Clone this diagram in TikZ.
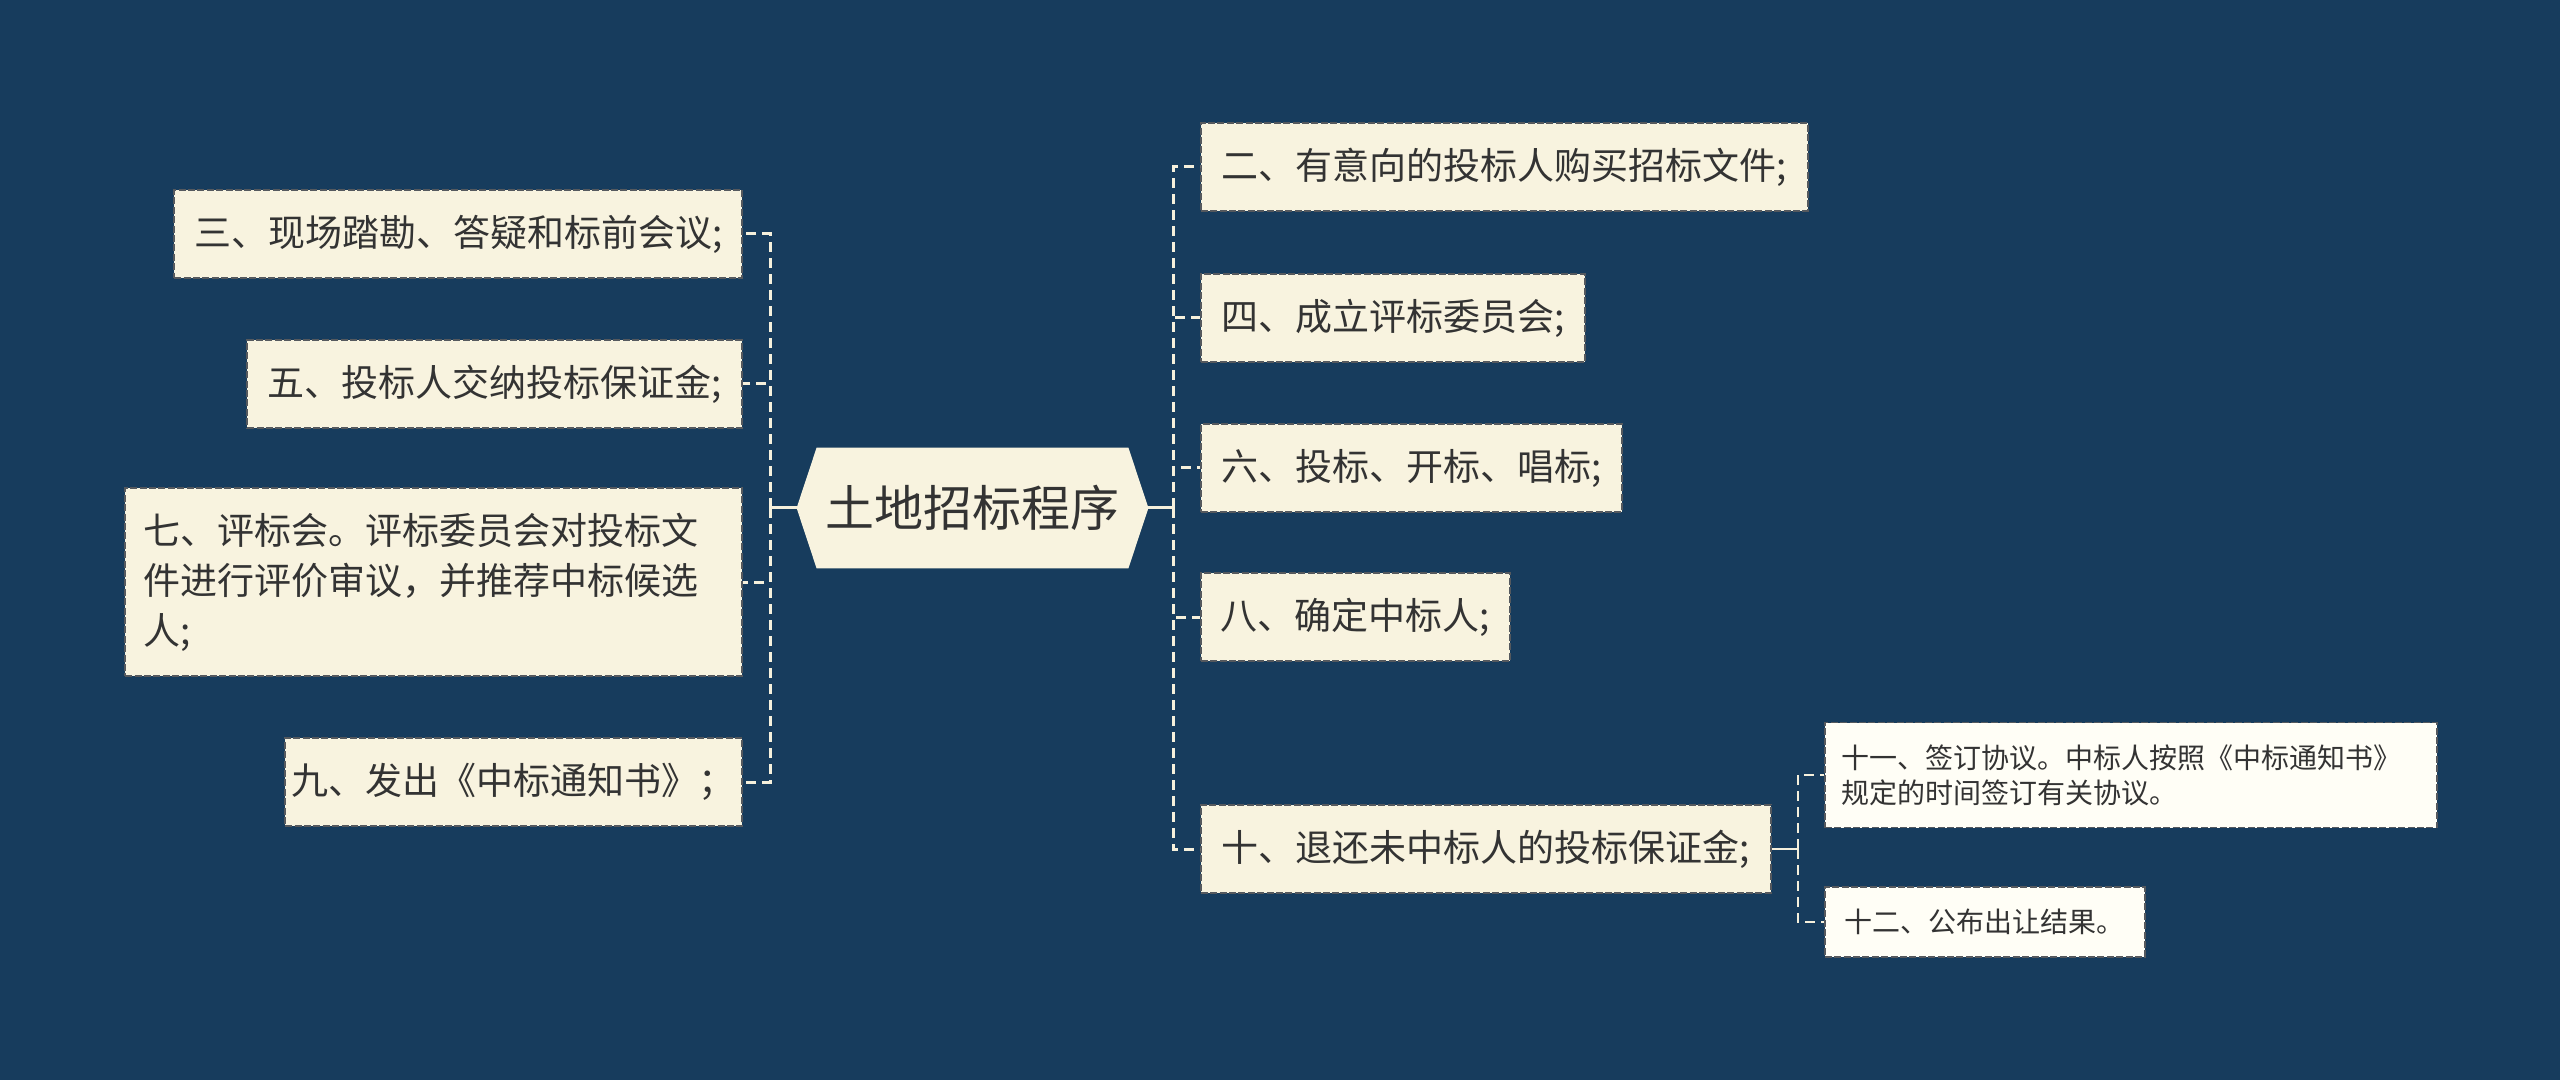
\documentclass[tikz,border=0pt]{standalone}
\usepackage{fontspec}
\setmainfont{Noto Sans CJK SC}
\usetikzlibrary{backgrounds}
\definecolor{bgblue}{HTML}{173C5D}
\definecolor{cream}{HTML}{F8F3DF}
\definecolor{paper}{HTML}{FFFEF6}
\definecolor{ink}{HTML}{333333}
\definecolor{wire}{HTML}{F5F0DC}
\definecolor{boxedge}{HTML}{55595E}
\begin{document}
\begin{tikzpicture}[x=0.5pt,y=-0.5pt,
  box/.style={fill=cream, draw=boxedge, line width=0.8pt, dash pattern=on 3.5pt off 1.2pt,
    text=ink, font=\fontsize{18.5pt}{25pt}\selectfont, inner xsep=0pt, inner ysep=0pt,
    minimum height=44pt},
  lbox/.style={box, anchor=east},
  rbox/.style={box, anchor=west},
  sbox/.style={box, anchor=west, fill=paper, font=\fontsize{14pt}{17.5pt}\selectfont},
  link/.style={draw=wire, line width=1.5pt, dash pattern=on 5pt off 3pt},
  stem/.style={draw=wire, line width=1.5pt},
  link2/.style={draw=wire, line width=1pt, dash pattern=on 5pt off 3pt},
  stem2/.style={draw=wire, line width=1pt}]
\begin{scope}[on background layer]
\fill[bgblue] (0,0) rectangle (2560,1080);
\end{scope}
\useasboundingbox (0,0) rectangle (2560,1080);

% root
\node[text=ink, font=\fontsize{24.5pt}{30pt}\selectfont, minimum width=175.5pt,
  minimum height=60pt, inner sep=0pt] (root) at (972.5,508) {土地招标程序};
\begin{scope}[on background layer]
\fill[cream] (root.west) -- ([xshift=10pt]root.north west) -- ([xshift=-10pt]root.north east)
  -- (root.east) -- ([xshift=-10pt]root.south east) -- ([xshift=10pt]root.south west) -- cycle;
\end{scope}

% left children
\node[lbox, minimum width=284pt] (n3) at (743,234) {三、现场踏勘、答疑和标前会议;};
\node[lbox, minimum width=247.5pt] (n5) at (743,384) {五、投标人交纳投标保证金;};
\node[lbox, minimum height=94pt, text width=290.5pt, inner xsep=9pt, align=left] (n7) at (743,582)
  {七、评标会。评标委员会对投标文\\件进行评价审议，并推荐中标候选\\人;};
\node[lbox, minimum width=228.5pt] (n9) at (743,782) {九、发出《中标通知书》；};

% right children
\node[rbox, minimum width=303.5pt] (n2) at (1200,167) {二、有意向的投标人购买招标文件;};
\node[rbox, minimum width=192pt] (n4) at (1200,318) {四、成立评标委员会;};
\node[rbox, minimum width=210.5pt] (n6) at (1200,468) {六、投标、开标、唱标;};
\node[rbox, minimum width=154.5pt] (n8) at (1200,617) {八、确定中标人;};
\node[rbox, minimum width=285pt] (n10) at (1200,849) {十、退还未中标人的投标保证金;};

% sub children
\node[sbox, minimum height=52.5pt, text width=289pt, inner xsep=8.5pt, align=left] (n11) at (1824,775)
  {十一、签订协议。中标人按照《中标通知书》\\规定的时间签订有关协议。};
\node[sbox, minimum width=160pt, minimum height=35pt] (n12) at (1824,922) {十二、公布出让结果。};

% connectors
\coordinate (hubL) at (770,508);
\coordinate (hubR) at (1173,508);
\coordinate (hub10) at (1798,849);
\draw[stem] (root.west) -- (hubL);
\draw[stem] (root.east) -- (hubR);
\foreach \n in {n3,n5,n7,n9} \draw[link] (hubL) |- (\n.east);
\foreach \n in {n2,n4,n6,n8,n10} \draw[link] (hubR) |- (\n.west);
\draw[stem2] (n10.east) -- (hub10);
\foreach \n in {n11,n12} \draw[link2] (hub10) |- (\n.west);
\end{tikzpicture}
\end{document}
